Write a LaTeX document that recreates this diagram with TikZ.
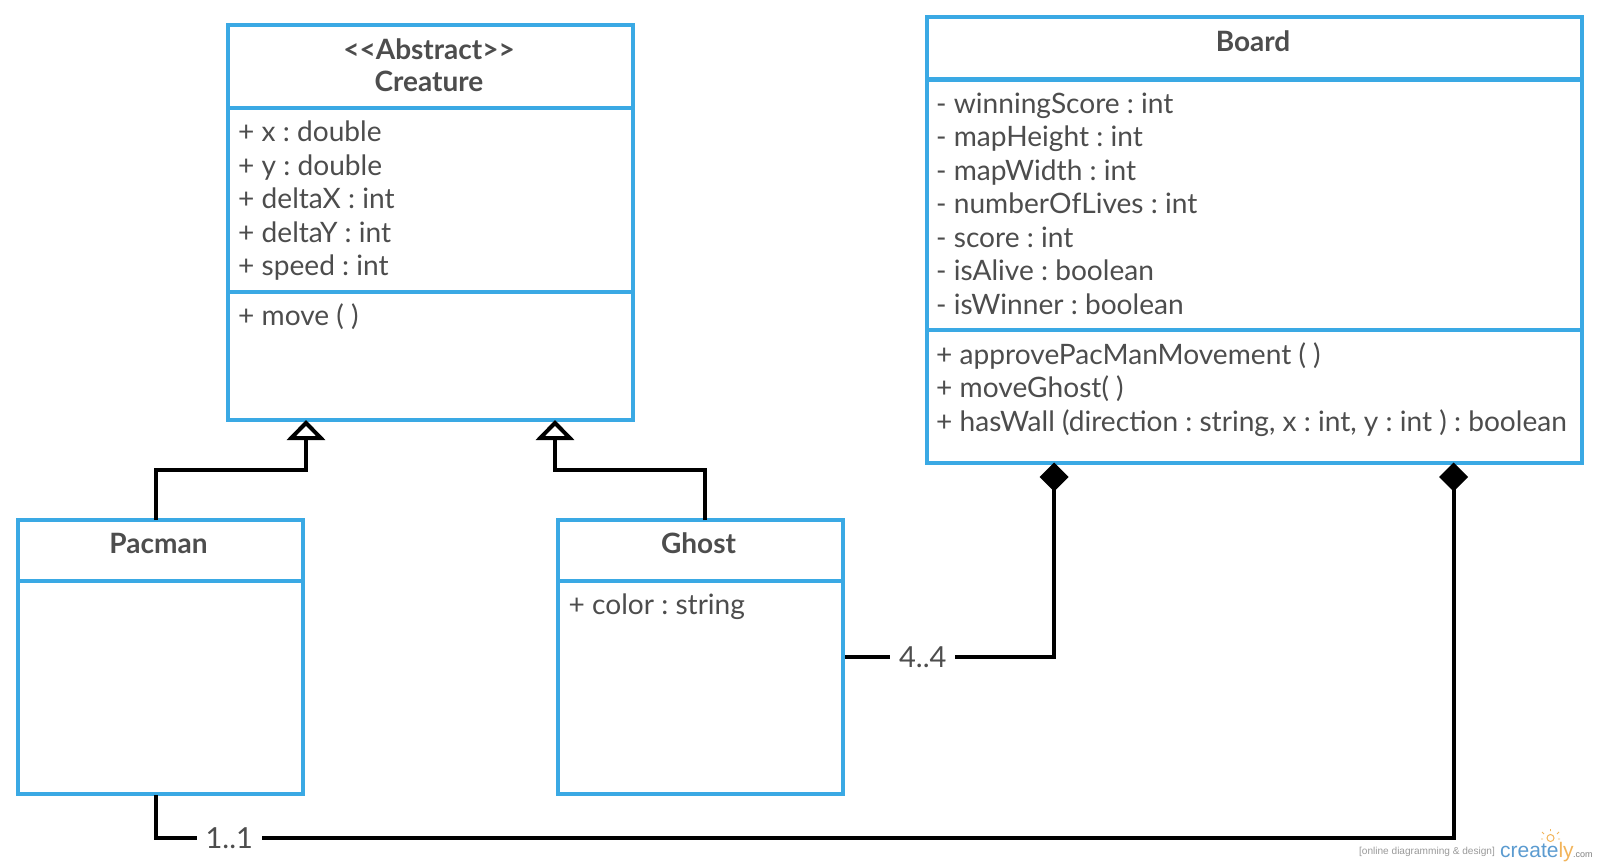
\documentclass[tikz,border=0pt]{standalone}
\usepackage{fontspec}
\setmainfont{Lato}
\newfontfamily\wmfont{Liberation Sans}
\usetikzlibrary{arrows.meta}
\definecolor{umlblue}{HTML}{3AA9E4}
\definecolor{umltext}{HTML}{4D4D4D}
\definecolor{wmblue}{HTML}{5B9BD0}
\definecolor{wmorange}{HTML}{F2B45A}
\tikzset{
  umlbox/.style={draw=umlblue,line width=4pt,fill=white,rectangle,inner sep=0pt,anchor=north west,line join=miter},
  divider/.style={draw=umlblue,line width=4pt},
  title/.style={font=\frenchspacing\fontsize{28}{32.3}\selectfont\bfseries,text=umltext,align=center,inner sep=0pt},
  members/.style={font=\frenchspacing\fontsize{28.1}{33.5}\selectfont,text=umltext,align=left,inner sep=0pt,anchor=north west},
  conn/.style={draw=black,line width=4pt,line join=miter},
  inherit/.style={conn,-{Triangle[open,length=20pt,width=38pt,line width=4pt]}},
  compose/.style={conn,{Diamond[length=29pt,width=29pt,line width=0pt]}-},
  mult/.style={font=\fontsize{29}{33}\selectfont,text=umltext,fill=white,inner xsep=9pt,inner ysep=2pt},
}
\begin{document}
\begin{tikzpicture}[x=1pt,y=-1pt]
\useasboundingbox (0,0) rectangle (1598,867);
% boxes
\node[umlbox,minimum width=405pt,minimum height=395pt] (creature) at (226,23) {};
\node[umlbox,minimum width=655pt,minimum height=446pt] (board) at (925,15) {};
\node[umlbox,minimum width=285pt,minimum height=274pt] (pacman) at (16,518) {};
\node[umlbox,minimum width=285pt,minimum height=274pt] (ghost) at (556,518) {};
% dividers
\draw[divider] (227,108) -- (633,108);
\draw[divider] (227,291.5) -- (633,291.5);
\draw[divider] (926,79.5) -- (1583,79.5);
\draw[divider] (926,330) -- (1583,330);
\draw[divider] (17,581) -- (304,581);
\draw[divider] (557,581) -- (844,581);
% titles
\node[title] (creatureT) at (429,65.5) {<{}<Abstract>{}>\\Creature};
\node[title] (boardT) at (1253,41) {Board};
\node[title] (pacmanT) at (158.5,543.5) {Pacman};
\node[title] (ghostT) at (698.5,543.5) {Ghost};
% members
\node[members] (creatureA) at (238,121) {+ x : double\\+ y : double\\+ deltaX : int\\+ deltaY : int\\+ speed : int};
\node[members] (creatureO) at (238,303.5) {+ move ( )};
\node[members] (boardA) at (936,92.5) {- winningScore : int\\- mapHeight : int\\- mapWidth : int\\- numberOfLives : int\\- score : int\\- isAlive : boolean\\- isWinner : boolean};
\node[members] (boardO) at (936,342.5) {+ approvePacManMovement ( )\\+ moveGhost( )\\+ hasWall (direction : string, x : int, y : int ) : boolean};
\node[members] (ghostA) at (568.5,594) {+ color : string};
% connector ends
\coordinate (pacTop) at (156,520);
\coordinate (pacBot) at (156,795);
\coordinate (ghostTop) at (705,520);
\coordinate (creatureL) at (306,420);
\coordinate (creatureR) at (555,420);
\coordinate (boardL) at (1054,462.5);
\coordinate (boardR) at (1453.5,462.5);
\coordinate (bendA) at (156,838);
\coordinate (bendB) at (1453.5,838);
% connectors
\draw[inherit] (pacTop) -- (156,470) -| (creatureL);
\draw[inherit] (ghostTop) -- (705,470) -| (creatureR);
\draw[compose] (boardL) |- node[mult,pos=0.814] {4..4} (ghost.east);
\draw[compose] (boardR) -- (bendB) -- node[mult,pos=0.9435] {1..1} (bendA) -- (pacBot);
% watermark
\node[font=\wmfont\fontsize{10.1}{11}\selectfont,text=gray!80,inner sep=0pt] (wm1) at (1427,852) {[online diagramming \& design]};
\node[font=\wmfont\fontsize{21}{24}\selectfont,inner sep=0pt,anchor=base west] (wm2) at (1500,857) {\textcolor{wmblue}{create}\textcolor{wmorange}{ly}};
\node[font=\wmfont\fontsize{9}{11}\selectfont,text=gray,inner sep=0pt,anchor=base west] (wm3) at (1573,857) {.com};
\draw[draw=wmorange,line width=1pt,fill=white] (1550.5,838) circle (3.5pt);
\draw[wmorange,line width=.8pt] (1550.5,831)--(1550.5,829) (1544,834)--(1542,832) (1557,834)--(1559,832) (1543,839)--(1541,839) (1558,839)--(1560,839);
\end{tikzpicture}
\end{document}
